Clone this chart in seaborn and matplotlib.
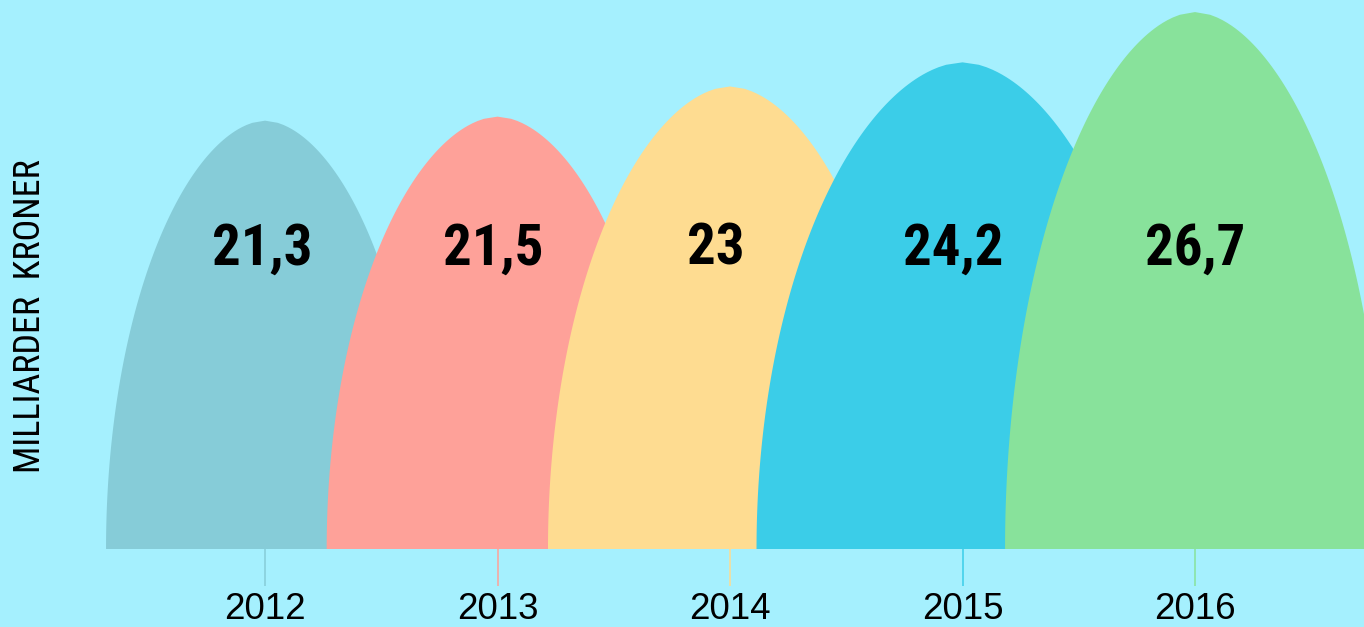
import matplotlib
matplotlib.use('Agg')
import matplotlib.pyplot as plt
import seaborn as sns
import numpy as np

# Data
years = ['2012', '2013', '2014', '2015', '2016']
values = [21.3, 21.5, 23.0, 24.2, 26.7]
value_labels = ['21,3', '21,5', '23', '24,2', '26,7']
y_label = 'MILLIARDER  KRONER'

# Style
bg_color = '#A5F0FE'
colors = ['#86CCD8', '#FEA199', '#FEDC91', '#3BCDE8', '#88E29B']
half_widths = [0.684, 0.735, 0.783, 0.886, 0.817]
label_shift = [-0.01, -0.02, -0.06, -0.04, 0.0]
condensed = ['Roboto Condensed', 'DejaVu Sans']

sns.set_theme(style='white', rc={
    'axes.facecolor': bg_color,
    'figure.facecolor': bg_color,
    'text.color': 'black',
    'xtick.color': 'black',
})
plt.rcParams['font.family'] = ['Liberation Sans', 'DejaVu Sans']

fig = plt.figure(figsize=(13.64, 6.27), dpi=100)
ax = fig.add_axes([80 / 1364, 78 / 627, 1 - 80 / 1364, 549 / 627])

# Bueformede søyler, tegnet fra venstre til høyre
t = np.linspace(0, 1, 200)
for i, (val, w, c) in enumerate(zip(values, half_widths, colors)):
    offset = w * (1 - t ** 2) ** 0.55
    xs = np.concatenate([i - offset, (i + offset)[::-1]])
    ys = np.concatenate([t * val, (t * val)[::-1]])
    ax.fill(xs, ys, color=c, lw=0, zorder=2 + i)
    ax.text(i + label_shift[i], 14.15, value_labels[i], ha='center',
            va='baseline', fontsize=41, fontweight='bold', color='black',
            family=condensed, zorder=10)

ax.set_xlim(-0.796, 4.727)
ax.set_ylim(0, 27.3)
ax.set_yticks([])
ax.set_xticks(range(len(years)))
ax.set_xticklabels(years, fontsize=26.5, color='black')
ax.tick_params(axis='x', length=26.6, width=1.1, pad=4.5, bottom=True)
for tick, c in zip(ax.xaxis.get_major_ticks(), colors):
    tick.tick1line.set_markeredgecolor(c)
sns.despine(ax=ax, left=True, bottom=True)
ax.grid(False)

fig.text(30 / 1364, 1 - 316 / 627, y_label, rotation=90, ha='center',
         va='center', fontsize=26, color='black', family=condensed)

fig.savefig('out.png', dpi=100, facecolor=bg_color)
plt.close(fig)
